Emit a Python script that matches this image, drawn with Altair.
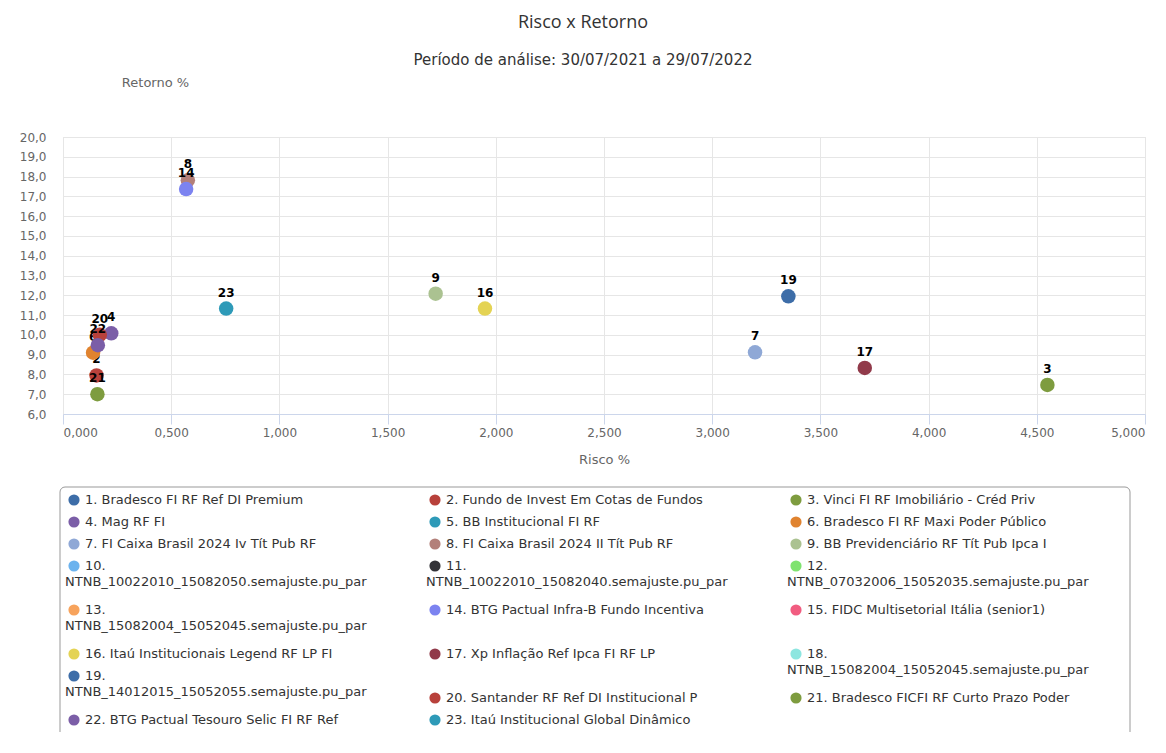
import altair as alt
import pandas as pd

# ---------------- data ----------------
series_names = [
    "1. Bradesco FI RF Ref DI Premium",
    "2. Fundo de Invest Em Cotas de Fundos",
    "3. Vinci FI RF Imobiliário - Créd Priv",
    "4. Mag RF FI",
    "5. BB Institucional FI RF",
    "6. Bradesco FI RF Maxi Poder Público",
    "7. FI Caixa Brasil 2024 Iv Tít Pub RF",
    "8. FI Caixa Brasil 2024 II Tít Pub RF",
    "9. BB Previdenciário RF Tít Pub Ipca I",
    "10. NTNB_10022010_15082050.semajuste.pu_par",
    "11. NTNB_10022010_15082040.semajuste.pu_par",
    "12. NTNB_07032006_15052035.semajuste.pu_par",
    "13. NTNB_15082004_15052045.semajuste.pu_par",
    "14. BTG Pactual Infra-B Fundo Incentiva",
    "15. FIDC Multisetorial Itália (senior1)",
    "16. Itaú Institucionais Legend RF LP FI",
    "17. Xp Inflação Ref Ipca FI RF LP",
    "18. NTNB_15082004_15052045.semajuste.pu_par",
    "19. NTNB_14012015_15052055.semajuste.pu_par",
    "20. Santander RF Ref DI Institucional P",
    "21. Bradesco FICFI RF Curto Prazo Poder",
    "22. BTG Pactual Tesouro Selic FI RF Ref",
    "23. Itaú Institucional Global Dinâmico",
]
series_colors = [
    "#3D6DA8", "#B8413B", "#7E9C3F", "#7B5EA7", "#2E9AB8", "#E0832F",
    "#8FA8D6", "#B3807A", "#ABC291", "#6CB3EE", "#333338", "#7FE36F",
    "#F7A35C", "#7C83F0", "#F15C80", "#E4D354", "#913A4A", "#8DE6E0",
    "#3D6DA8", "#B8413B", "#7E9C3F", "#7B5EA7", "#2E9AB8",
]

# plotted points (series number, risco %, retorno %)
point_ids = [2, 3, 4, 6, 7, 8, 9, 14, 16, 17, 19, 20, 21, 22, 23]
risco = [0.155, 4.549, 0.223, 0.139, 3.198, 0.577, 1.722, 0.569, 1.950, 3.705, 3.352, 0.170, 0.159, 0.161, 0.754]
retorno = [7.95, 7.47, 10.08, 9.10, 9.12, 17.82, 12.08, 17.37, 11.33, 8.33, 11.95, 10.00, 7.00, 9.48, 11.33]

x_ticks = [0, 0.5, 1, 1.5, 2, 2.5, 3, 3.5, 4, 4.5, 5]
y_ticks = list(range(6, 21))

# ---------------- layout helpers (not data) ----------------
FONT = "DejaVu Sans"
PLOT_W, PLOT_H = 1082, 277
legend_row_slots = [0, 1, 2, 3, 5, 7, None, 10]  # row tops in 22px line slots

pts = pd.DataFrame({
    "id": point_ids,
    "num": [str(i) for i in point_ids],
    "risco": risco,
    "retorno": retorno,
    "name": [series_names[i - 1] for i in point_ids],
})

color_scale = alt.Scale(domain=series_names, range=series_colors)

X = alt.X("risco:Q", title="Risco %",
          scale=alt.Scale(domain=[0, 5], nice=False, zero=False),
          axis=alt.Axis(values=x_ticks,
                        labelExpr="replace(format(datum.value, '.3f'), '.', ',')",
                        grid=True, gridColor="#e6e6e6",
                        domainColor="#ccd6eb", tickColor="#ccd6eb", tickSize=10,
                        labelPadding=3, labelColor="#666666", labelFontSize=12,
                        labelFont=FONT, titleFont=FONT, titleFontSize=13,
                        titleFontWeight="normal", titleColor="#666666",
                        titleY=45, titleBaseline="middle"))
Y = alt.Y("retorno:Q", title="Retorno %",
          scale=alt.Scale(domain=[6, 20], nice=False, zero=False),
          axis=alt.Axis(values=y_ticks,
                        labelExpr="replace(format(datum.value, '.1f'), '.', ',')",
                        grid=True, gridColor="#e6e6e6", domain=False, ticks=False,
                        labelPadding=17, labelColor="#666666", labelFontSize=12,
                        labelFont=FONT, titleFont=FONT, titleFontSize=13,
                        titleFontWeight="normal", titleColor="#666666",
                        titleAngle=0, titleX=92, titleY=-55,
                        titleAlign="center", titleBaseline="middle"))
C = alt.Color("name:N", scale=color_scale, legend=None)

scatter_layers = []
for sid in point_ids:
    base = alt.Chart(pts).transform_filter(alt.datum.id == sid)
    scatter_layers.append(base.mark_circle(size=210, opacity=1).encode(x=X, y=Y, color=C))
    scatter_layers.append(
        base.mark_text(dy=-16, fontSize=12, fontWeight="bold", font=FONT, color="#000000")
        .encode(x=X, y=Y, text="num:N")
    )
scatter = alt.layer(*scatter_layers)

# ---------------- legend (drawn as marks) ----------------
rows = []
for i, nm in enumerate(series_names):
    r, c = divmod(i, 3)
    if len(nm) > 40:
        l1, l2 = nm.split(" ", 1)
    else:
        l1, l2 = nm, ""
    rows.append({"name": nm, "line1": l1, "line2": l2, "col": c, "row": r})
leg = pd.DataFrame(rows)
slot = []
for _, rw in leg.iterrows():
    s = legend_row_slots[rw["row"]]
    if s is None:
        s = 8 if rw["col"] == 0 else 9
    slot.append(s)
leg["slot"] = slot

LX = alt.X("col:Q", scale=alt.Scale(domain=[0, 2], range=[11, 733], nice=False, zero=False), axis=None)
LY = alt.Y("slot:Q", scale=alt.Scale(domain=[0, 10], range=[363, 583], nice=False, zero=False), axis=None)

box = alt.Chart(pd.DataFrame({"k": [0]})).mark_rect(
    fill="white", stroke="#999999", strokeWidth=1, cornerRadius=5
).encode(x=alt.value(-3), x2=alt.value(1067), y=alt.value(350), y2=alt.value(700))

LEG_FS = 13
leg_sym = alt.Chart(leg).mark_circle(size=125, opacity=1).encode(x=LX, y=LY, color=C)
leg_t1 = alt.Chart(leg).mark_text(align="left", baseline="middle", dx=11, fontSize=LEG_FS,
                                  font=FONT, color="#333333").encode(x=LX, y=LY, text="line1:N")
leg_t2 = alt.Chart(leg).transform_filter("datum.line2 != ''").mark_text(
    align="left", baseline="middle", dx=-9, dy=16, fontSize=LEG_FS, font=FONT, color="#333333"
).encode(x=LX, y=LY, text="line2:N")
legend = alt.layer(box, leg_sym, leg_t1, leg_t2)

chart = alt.layer(scatter, legend).resolve_scale(x="independent", y="independent").properties(
    width=PLOT_W, height=PLOT_H,
    autosize=alt.AutoSizeParams(type="none"),
    padding={"left": 55, "top": 129, "right": 8, "bottom": 318},
    title=alt.TitleParams(
        text="Risco x Retorno",
        subtitle="Período de análise: 30/07/2021 a 29/07/2022",
        anchor="middle", frame="group", dx=-21, offset=8,
        font="Open Sans", fontSize=18, fontWeight="normal", color="#333333",
        subtitleFont=FONT, subtitleFontSize=15, subtitleColor="#333333",
        subtitlePadding=21,
    ),
).configure_view(stroke=None).configure(background="white")

chart.save("out.html", embed_options={"renderer": "svg", "actions": False})
